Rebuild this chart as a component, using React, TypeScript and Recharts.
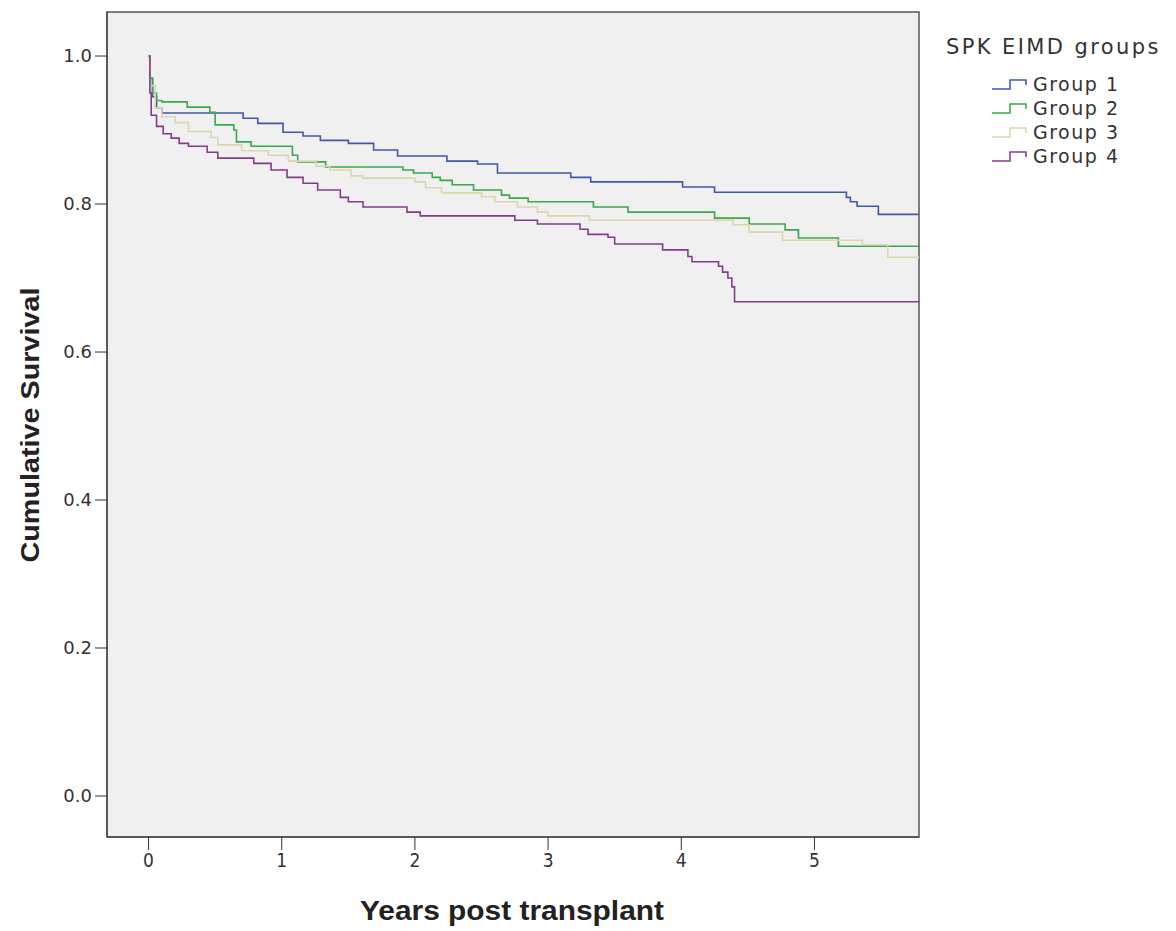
import React from "react";
import {
  LineChart,
  Line,
  XAxis,
  YAxis,
  ReferenceArea,
} from "recharts";

// Kaplan-Meier step points: time (years) and survival
const group1Times = [0, 0.01, 0.03, 0.06, 0.1, 0.71, 0.82, 1.01, 1.16, 1.29, 1.5, 1.69, 1.87, 2.24, 2.47, 2.62, 3.17, 3.32, 4.01, 4.25, 5.24, 5.27, 5.32, 5.48, 5.785];
const group1Surv = [1.0, 0.97, 0.945, 0.93, 0.923, 0.916, 0.909, 0.897, 0.892, 0.886, 0.882, 0.873, 0.865, 0.858, 0.854, 0.842, 0.836, 0.83, 0.823, 0.816, 0.809, 0.803, 0.797, 0.786, 0.786];

const group2Times = [0, 0.01, 0.03, 0.06, 0.1, 0.29, 0.46, 0.5, 0.64, 0.66, 0.77, 1.08, 1.12, 1.33, 1.91, 1.99, 2.13, 2.19, 2.28, 2.44, 2.65, 2.71, 2.85, 3.34, 3.6, 4.25, 4.51, 4.78, 4.88, 5.18, 5.785];
const group2Surv = [1.0, 0.97, 0.95, 0.94, 0.938, 0.931, 0.924, 0.907, 0.9, 0.884, 0.878, 0.866, 0.857, 0.85, 0.846, 0.842, 0.836, 0.832, 0.826, 0.819, 0.812, 0.808, 0.803, 0.796, 0.789, 0.781, 0.773, 0.765, 0.754, 0.743, 0.743];

const group3Times = [0, 0.01, 0.05, 0.1, 0.2, 0.3, 0.47, 0.52, 0.7, 0.9, 1.05, 1.26, 1.36, 1.52, 1.61, 2.0, 2.08, 2.2, 2.5, 2.6, 2.77, 2.92, 3.0, 3.31, 4.39, 4.51, 4.76, 5.36, 5.55, 5.785];
const group3Surv = [1.0, 0.96, 0.93, 0.918, 0.91, 0.898, 0.89, 0.88, 0.872, 0.866, 0.858, 0.851, 0.846, 0.838, 0.835, 0.83, 0.822, 0.815, 0.81, 0.803, 0.796, 0.789, 0.784, 0.778, 0.772, 0.762, 0.751, 0.745, 0.728, 0.728];

const group4Times = [0, 0.01, 0.02, 0.06, 0.11, 0.17, 0.23, 0.3, 0.44, 0.52, 0.79, 0.92, 1.04, 1.16, 1.27, 1.44, 1.5, 1.61, 1.94, 2.04, 2.75, 2.92, 3.24, 3.3, 3.45, 3.5, 3.86, 4.05, 4.08, 4.28, 4.31, 4.35, 4.38, 4.4, 5.785];
const group4Surv = [1.0, 0.95, 0.92, 0.905, 0.895, 0.889, 0.882, 0.878, 0.87, 0.862, 0.855, 0.846, 0.836, 0.828, 0.819, 0.809, 0.803, 0.796, 0.789, 0.784, 0.778, 0.773, 0.766, 0.759, 0.755, 0.746, 0.738, 0.729, 0.722, 0.716, 0.708, 0.7, 0.688, 0.668, 0.668];

const groupNames = ["Group 1", "Group 2", "Group 3", "Group 4"];
const groupColors = ["#4058a8", "#3aa84c", "#ddd5ae", "#833d88"];

const xTicks = [0, 1, 2, 3, 4, 5];
const yTicks = [0, 0.2, 0.4, 0.6, 0.8, 1.0];

const X_DOMAIN: [number, number] = [-0.312, 5.785];
const Y_DOMAIN: [number, number] = [-0.0554, 1.0595];

const toSeries = (times: number[], surv: number[]) =>
  times.map((t, i) => ({ t, s: surv[i] }));

const series = [
  toSeries(group1Times, group1Surv),
  toSeries(group2Times, group2Surv),
  toSeries(group3Times, group3Surv),
  toSeries(group4Times, group4Surv),
];

function StepIcon({ color }: { color: string }) {
  return (
    <svg width={42} height={16} style={{ display: "block" }}>
      <path
        d="M2 13 H20 V4 H36 V9"
        fill="none"
        stroke={color}
        strokeWidth={1.5}
      />
    </svg>
  );
}

export default function App() {
  return (
    <div style={{ position: "relative", width: 1160, height: 923 }}>
      <LineChart
        width={1160}
        height={923}
        margin={{ top: 4, right: 249, bottom: 0, left: 0 }}
      >
        <ReferenceArea
          x1={X_DOMAIN[0]}
          x2={X_DOMAIN[1]}
          y1={Y_DOMAIN[0]}
          y2={Y_DOMAIN[1]}
          fill="#f0f0f0"
          fillOpacity={1}
          stroke="#555"
          strokeWidth={1.5}
          ifOverflow="extendDomain"
        />
        <XAxis
          type="number"
          dataKey="t"
          domain={X_DOMAIN}
          ticks={xTicks}
          allowDataOverflow
          height={94}
          stroke="#333"
          tickSize={13}
          tickMargin={4}
          tick={{
            fill: "#333",
            fontSize: 19,
            fontFamily: "'Liberation Sans Narrow', 'DejaVu Sans Condensed', 'Liberation Sans', sans-serif",
          }}
          label={{
            content: () => (
              <text
                x={504}
                y={912}
                textAnchor="middle"
                fontSize={27}
                fontWeight="bold"
                fill="#222"
                textLength={304}
                lengthAdjust="spacingAndGlyphs"
                fontFamily="'Liberation Sans Narrow', 'Liberation Sans', sans-serif"
              >
                Years post transplant
              </text>
            ),
          }}
        />
        <YAxis
          type="number"
          dataKey="s"
          domain={Y_DOMAIN}
          ticks={yTicks}
          allowDataOverflow
          width={99}
          stroke="#333"
          tickSize={12}
          tickMargin={3}
          tickFormatter={(v: number) => v.toFixed(1)}
          tick={{ fill: "#333", fontSize: 18, fontFamily: "'DejaVu Sans', sans-serif" }}
          label={{
            content: () => (
              <text
                x={22}
                y={417}
                transform="rotate(-90 22 417)"
                textAnchor="middle"
                dominantBaseline="central"
                fontSize={25}
                fontWeight="bold"
                fill="#222"
                textLength={275}
                lengthAdjust="spacingAndGlyphs"
                fontFamily="'Liberation Sans Narrow', 'Liberation Sans', sans-serif"
              >
                Cumulative Survival
              </text>
            ),
          }}
        />
        {series.map((data, i) => (
          <Line
            key={groupNames[i]}
            data={data}
            dataKey="s"
            name={groupNames[i]}
            type="stepAfter"
            stroke={groupColors[i]}
            strokeWidth={1.6}
            dot={false}
            activeDot={false}
            isAnimationActive={false}
          />
        ))}
      </LineChart>
      <div
        style={{
          position: "absolute",
          left: 938,
          top: 26,
          fontFamily: "'DejaVu Sans', sans-serif",
          color: "#333",
        }}
      >
        <div
          style={{
            fontSize: 21,
            letterSpacing: 2.4,
            whiteSpace: "nowrap",
            lineHeight: "26px",
            marginBottom: 12,
          }}
        >
          SPK EIMD groups
        </div>
        {groupNames.map((name, i) => (
          <div
            key={name}
            style={{
              display: "flex",
              alignItems: "center",
              height: 24,
              marginLeft: 44,
              fontSize: 19,
              letterSpacing: 1.5,
              whiteSpace: "nowrap",
            }}
          >
            <StepIcon color={groupColors[i]} />
            <span style={{ marginLeft: 1 }}>{name}</span>
          </div>
        ))}
      </div>
    </div>
  );
}
